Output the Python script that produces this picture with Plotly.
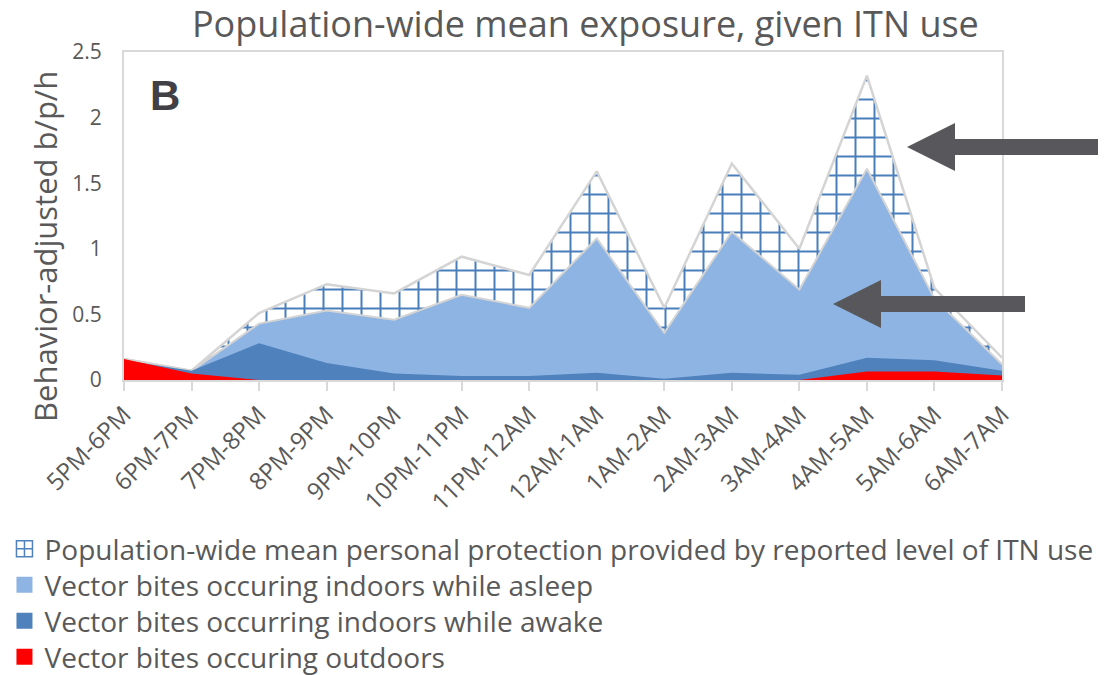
import plotly.graph_objects as go

categories = ['5PM-6PM', '6PM-7PM', '7PM-8PM', '8PM-9PM', '9PM-10PM', '10PM-11PM',
              '11PM-12AM', '12AM-1AM', '1AM-2AM', '2AM-3AM', '3AM-4AM', '4AM-5AM',
              '5AM-6AM', '6AM-7AM']

# visible top level of each layer (behavior-adjusted bites per person per hour)
protection = [0.16, 0.07, 0.51, 0.73, 0.66, 0.94, 0.80, 1.59, 0.55, 1.65, 1.00, 2.32, 0.70, 0.17]
asleep     = [0.16, 0.07, 0.43, 0.53, 0.46, 0.65, 0.55, 1.08, 0.36, 1.13, 0.69, 1.61, 0.62, 0.12]
awake      = [0.15, 0.07, 0.28, 0.13, 0.05, 0.03, 0.03, 0.055, 0.01, 0.055, 0.04, 0.17, 0.15, 0.07]
outdoors   = [0.16, 0.05, 0.0, 0.0, 0.0, 0.0, 0.0, 0.0, 0.0, 0.0, 0.0, 0.065, 0.065, 0.035]

names = ['Population-wide mean personal protection provided by reported level of ITN use',
         'Vector bites occuring indoors while asleep',
         'Vector bites occurring indoors while awake',
         'Vector bites occuring outdoors']

y_ticks = [0, 0.5, 1, 1.5, 2, 2.5]
y_ticktext = ['0', '0.5', '1', '1.5', '2', '2.5']

FONT = 'Open Sans'
GREY = '#595959'
LIGHT = '#8eb4e3'
DARK = '#4f81bd'
RED = '#ff0000'

W, H = 1115, 675
L, R, T, B = 124, 1002, 52, 380

fig = go.Figure()
# areas (legend shown through square proxies below)
fig.add_trace(go.Scatter(
    x=categories, y=protection, name=names[0], mode='lines', fill='tozeroy',
    line=dict(color='#d4d4d4', width=2.5), showlegend=False,
    fillpattern=dict(shape='+', fgcolor='#4a7ebb', bgcolor='white', size=19,
                     solidity=0.2, fgopacity=1),
    fillcolor='white'))
fig.add_trace(go.Scatter(
    x=categories, y=asleep, name=names[1], mode='lines', fill='tozeroy',
    line=dict(color='#d4d4d4', width=2), fillcolor=LIGHT, showlegend=False))
fig.add_trace(go.Scatter(
    x=categories, y=awake, name=names[2], mode='lines', fill='tozeroy',
    line=dict(color=DARK, width=0), fillcolor=DARK, showlegend=False))
fig.add_trace(go.Scatter(
    x=categories, y=outdoors, name=names[3], mode='lines', fill='tozeroy',
    line=dict(color=RED, width=0), fillcolor=RED, showlegend=False))

# legend proxies (square swatches like the original), one legend per row
legend_markers = [
    dict(symbol='square-cross', color='white', size=16, line=dict(color=DARK, width=1.5)),
    dict(symbol='square', color=LIGHT, size=17, line=dict(width=0)),
    dict(symbol='square', color=DARK, size=17, line=dict(width=0)),
    dict(symbol='square', color=RED, size=17, line=dict(width=0)),
]
legend_ids = ['legend', 'legend2', 'legend3', 'legend4']
legend_rows = [549, 585, 621, 657]
for nm, mk, lid in zip(names, legend_markers, legend_ids):
    fig.add_trace(go.Scatter(x=[None], y=[None], mode='markers', name=nm, marker=mk,
                             showlegend=True, legend=lid))


def px2paper(x, y):
    return (x - L) / (R - L), (B - y) / (B - T)


def arrow_path(pts):
    s = []
    for i, (x, y) in enumerate(pts):
        px, py = px2paper(x, y)
        s.append(('M' if i == 0 else 'L') + f'{px:.5f},{py:.5f}')
    return ' '.join(s) + ' Z'


arrow1 = [(907, 147), (955, 123), (955, 139), (1098, 139), (1098, 155), (955, 155), (955, 171)]
arrow2 = [(833, 304), (881, 280), (881, 296), (1025, 296), (1025, 312), (881, 312), (881, 328)]
shapes = [dict(type='path', xref='paper', yref='paper', path=arrow_path(a),
               fillcolor='#58585c', line=dict(width=0), layer='above')
          for a in (arrow1, arrow2)]

legend_common = dict(xref='container', yref='container', x=0.004,
                     xanchor='left', yanchor='middle', orientation='v',
                     font=dict(size=28, color=GREY, family=FONT),
                     itemwidth=30, bgcolor='rgba(0,0,0,0)')
legends = {lid: dict(legend_common, y=1 - yc / H) for lid, yc in zip(legend_ids, legend_rows)}

ytitle_x, ytitle_y = px2paper(45, 247)

fig.update_layout(
    width=W, height=H,
    margin=dict(l=L, r=W - R, t=T, b=H - B, autoexpand=False),
    paper_bgcolor='white', plot_bgcolor='white',
    font=dict(family=FONT, color=GREY),
    title=dict(text='Population-wide mean exposure, given ITN use',
               x=0.525, xref='container', xanchor='center',
               y=1 - 24 / H, yref='container', yanchor='middle',
               font=dict(size=36, color=GREY, family=FONT)),
    xaxis=dict(type='category', range=[0, len(categories) - 1],
               showgrid=False, showline=True, linecolor='#d9d9d9', linewidth=2,
               mirror=True, ticks='outside', ticklen=9, tickcolor='#d9d9d9', tickwidth=1.5,
               tickangle=-45, tickfont=dict(size=24, color=GREY, family=FONT)),
    yaxis=dict(range=[0, 2.5], tickvals=y_ticks, ticktext=y_ticktext,
               showgrid=False, showline=True, linecolor='#d9d9d9', linewidth=2,
               mirror=True, ticks='outside', ticklen=16, tickcolor='rgba(0,0,0,0)',
               zeroline=False,
               tickfont=dict(size=21, color=GREY, family=FONT)),
    showlegend=True,
    shapes=shapes,
    annotations=[
        dict(text='<b>B</b>', xref='paper', yref='paper',
             x=(165 - L) / (R - L), y=(B - 95) / (B - T),
             xanchor='center', yanchor='middle', showarrow=False,
             font=dict(size=42, color='#404045', family='Liberation Sans')),
        dict(text='Behavior-adjusted b/p/h', xref='paper', yref='paper',
             x=ytitle_x, y=ytitle_y, xanchor='center', yanchor='middle',
             textangle=-90, showarrow=False,
             font=dict(size=31, color=GREY, family=FONT)),
    ],
    **legends,
)

fig.write_html('out.html')
